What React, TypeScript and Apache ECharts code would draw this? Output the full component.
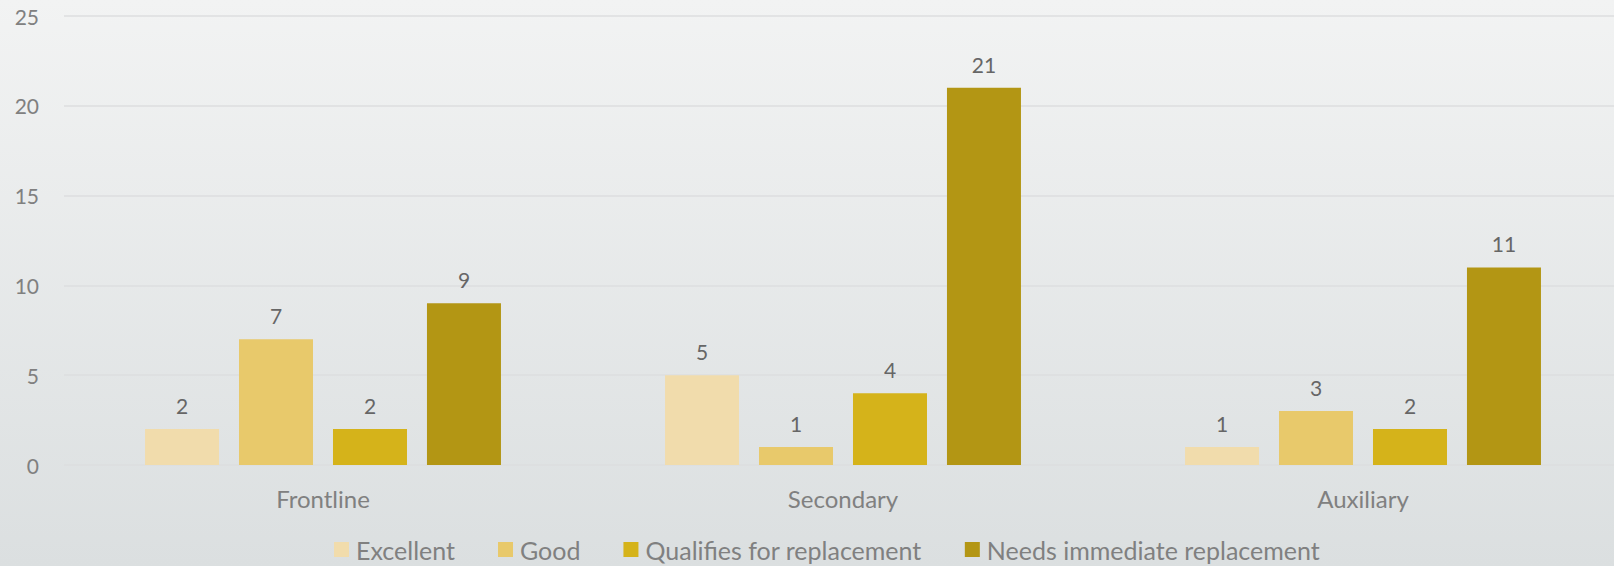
import React, { useEffect, useRef } from "react";
import * as echarts from "echarts";

const categories = ["Frontline", "Secondary", "Auxiliary"];
const seriesNames = ["Excellent", "Good", "Qualifies for replacement", "Needs immediate replacement"];
const excellent = [2, 5, 1];
const good = [7, 1, 3];
const qualifies = [2, 4, 2];
const needs = [9, 21, 11];
const colors = ["#F1DCAC", "#E8C96B", "#D5B31A", "#B39614"];
const yTicks = { min: 0, max: 25, interval: 5 };

export default function App() {
  const ref = useRef<HTMLDivElement>(null);
  useEffect(() => {
    document.body.style.margin = "0";
    document.body.style.overflow = "hidden";
    document.documentElement.style.overflow = "hidden";
    const chart = echarts.init(ref.current!, null, { renderer: "svg" });
    const font = "Lato, 'Open Sans', sans-serif";
    const values = [excellent, good, qualifies, needs];
    chart.setOption({
      animation: false,
      backgroundColor: new echarts.graphic.LinearGradient(0, 0, 0, 1, [
        { offset: 0, color: "#f2f3f3" },
        { offset: 1, color: "#dbdfe0" },
      ]),
      textStyle: { fontFamily: font },
      grid: [
        { left: 63, right: 17, top: 16, bottom: 101, containLabel: false },
        { left: 64, right: 26, top: 16, bottom: 101, containLabel: false },
      ],
      legend: {
        top: 537,
        left: 334,
        padding: 0,
        itemWidth: 15,
        itemHeight: 15,
        itemGap: 43,
        icon: "rect",
        textStyle: { color: "#808080", fontSize: 25, fontFamily: font, padding: [0, 0, 0, 2] },
        data: seriesNames,
      },
      xAxis: [
        {
          type: "category",
          data: categories,
          gridIndex: 0,
          axisLine: { show: false },
          axisTick: { show: false },
          axisLabel: { color: "#808080", fontSize: 24, margin: 21, fontFamily: font },
        },
        { type: "value", gridIndex: 1, show: false },
      ],
      yAxis: [
        {
          type: "value",
          gridIndex: 0,
          min: yTicks.min,
          max: yTicks.max,
          interval: yTicks.interval,
          axisLine: { show: false },
          axisTick: { show: false },
          splitLine: { show: false },
          axisLabel: { color: "#808080", fontSize: 21, margin: 24, padding: [8, 0, 0, 0], fontFamily: font },
        },
        {
          type: "value",
          gridIndex: 1,
          min: yTicks.min,
          max: yTicks.max,
          interval: yTicks.interval,
          axisLine: { show: false },
          axisTick: { show: false },
          axisLabel: { show: false },
          splitLine: { show: true, lineStyle: { color: "#dcdedf", width: 1.5 } },
        },
      ],
      series: seriesNames.map((name, i) => ({
        name,
        type: "bar",
        xAxisIndex: 0,
        yAxisIndex: 0,
        data: values[i],
        barWidth: 74,
        barGap: "27%",
        itemStyle: { color: colors[i] },
        label: {
          show: true,
          position: "top",
          distance: 13,
          color: "#666666",
          fontSize: 21,
          fontFamily: font,
        },
      })),
    });
    return () => chart.dispose();
  }, []);
  return <div ref={ref} style={{ width: 1640, height: 566 }} />;
}
